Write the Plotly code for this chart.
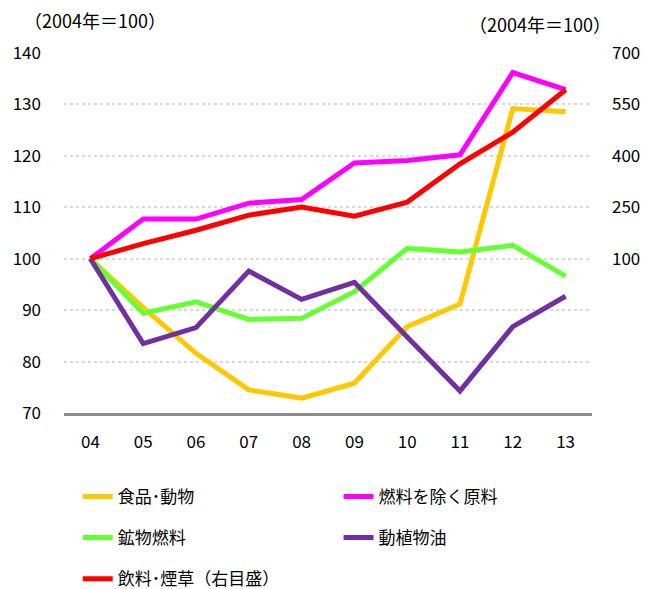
import plotly.graph_objects as go

years = ["04", "05", "06", "07", "08", "09", "10", "11", "12", "13"]

food = [100, 90.5, 81.6, 74.5, 72.9, 75.8, 86.8, 91.2, 129.2, 128.6]
raw_ex_fuel = [100, 107.7, 107.7, 110.8, 111.5, 118.6, 119.1, 120.2, 136.2, 132.9]
mineral_fuel = [100, 89.4, 91.6, 88.2, 88.4, 93.6, 102.0, 101.3, 102.6, 96.6]
oils = [100, 83.5, 86.6, 97.6, 92.1, 95.4, 84.8, 74.3, 86.8, 92.7]
bev_tobacco = [100, 144, 183, 227, 251, 224, 265, 377, 469, 593]  # right axis

left_ticks = [70, 80, 90, 100, 110, 120, 130, 140]
right_ticks = [100, 250, 400, 550, 700]

FONT = "Noto Sans CJK JP"

fig = go.Figure()

def add_line(name, vals, color, legend, yaxis="y"):
    fig.add_trace(go.Scatter(
        x=years, y=vals, name=name, mode="lines",
        line=dict(color=color, width=5),
        yaxis=yaxis, legend=legend, legendgroup=name,
    ))

add_line("食品･動物", food, "#FFC800", "legend")
add_line("燃料を除く原料", raw_ex_fuel, "#FF00FF", "legend2")
add_line("鉱物燃料", mineral_fuel, "#66FF33", "legend")
add_line("動植物油", oils, "#7030A0", "legend2")
add_line("飲料･煙草（右目盛）", bev_tobacco, "#FF0000", "legend", yaxis="y2")

leg = dict(orientation="v", xanchor="left", yanchor="top", y=-0.183,
           traceorder="grouped", tracegroupgap=16,
           font=dict(family=FONT, size=17, color="#000"),
           bgcolor="rgba(0,0,0,0)")

# page body has an 8px margin, so the figure is drawn 8px smaller
fig.update_layout(
    width=645, height=581,
    margin=dict(l=56, r=61, t=44.5, b=176, autoexpand=False),
    plot_bgcolor="white", paper_bgcolor="white",
    font=dict(family=FONT, size=17, color="#000"),
    xaxis=dict(
        type="category", range=[-0.5, 9.5], showgrid=False, ticks="",
        showline=True, linecolor="#8C8C8C", linewidth=2.5,
        ticklabelstandoff=12, automargin=False,
    ),
    yaxis=dict(
        range=[70, 140], tickvals=left_ticks,
        showgrid=True, gridcolor="#D9D9D9", gridwidth=1.5, griddash="dot",
        zeroline=False, ticks="", ticklabelstandoff=22, automargin=False,
    ),
    yaxis2=dict(
        overlaying="y", side="right",
        range=[-350, 700], tickvals=right_ticks,
        showgrid=False, zeroline=False, ticks="", ticklabelstandoff=19,
        automargin=False,
    ),
    legend=dict(leg, x=0.026),
    legend2=dict(leg, x=0.52),
    annotations=[
        dict(text="（2004年＝100）", xref="paper", yref="paper",
             x=-0.08, y=1.0, yshift=33, xanchor="left", yanchor="middle",
             showarrow=False, font=dict(size=18)),
        dict(text="（2004年＝100）", xref="paper", yref="paper",
             x=1.04, y=1.0, yshift=29, xanchor="right", yanchor="middle",
             showarrow=False, font=dict(size=18)),
    ],
)

fig.write_html("out.html")
